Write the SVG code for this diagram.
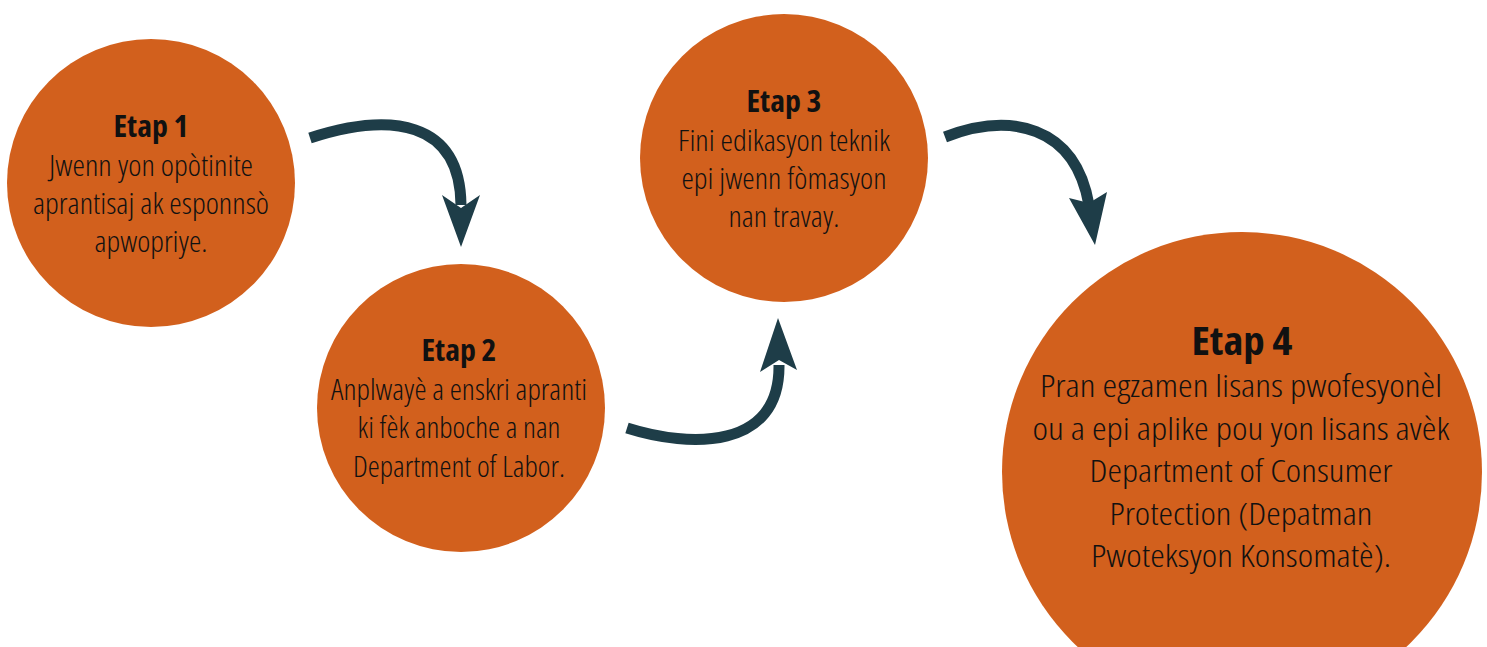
<svg xmlns="http://www.w3.org/2000/svg" width="1487" height="647" viewBox="0 0 1487 647">
<style>
.c{fill:#D2601D}
.t{font-family:"Open Sans","Liberation Sans",sans-serif;font-stretch:condensed;fill:#111;text-anchor:middle}
.h{font-weight:700;font-size:30px}
.b{font-weight:300;font-size:29px}
.h4{font-weight:700;font-size:40px}
.b4{font-weight:300;font-size:32px}
.sh{fill:none;stroke:#1E3D48;stroke-width:11}
.ah{fill:#1E3D48}
</style>
<rect width="1487" height="647" fill="#fff"/>
<g id="connectors">
<path class="sh" d="M310,138 C390,112 460,120 461,205"/>
<polygon class="ah" points="461,247 480,195 461,208 442,195"/>
<path class="sh" d="M627,428 C690,448 780,450 779,365"/>
<polygon class="ah" points="778,318 797,370 779,360 760,372"/>
<path class="sh" d="M945,137 C1010,112 1075,125 1089,205"/>
<polygon class="ah" points="1095,245 1107,192 1089,203 1069,198"/>
</g>
<g id="step1">
<circle class="c" cx="151" cy="183" r="144"/>
<text class="t h" x="151" y="137" textLength="75" lengthAdjust="spacingAndGlyphs">Etap 1</text>
<text class="t b" x="151" y="176" textLength="204" lengthAdjust="spacingAndGlyphs">Jwenn yon opòtinite</text>
<text class="t b" x="151" y="214" textLength="236" lengthAdjust="spacingAndGlyphs">aprantisaj ak esponnsò</text>
<text class="t b" x="151" y="252" textLength="113" lengthAdjust="spacingAndGlyphs">apwopriye.</text>
</g>
<g id="step2">
<circle class="c" cx="461" cy="408" r="144"/>
<text class="t h" x="459" y="361" textLength="75" lengthAdjust="spacingAndGlyphs">Etap 2</text>
<text class="t b" x="459" y="400" textLength="256" lengthAdjust="spacingAndGlyphs">Anplwayè a enskri apranti</text>
<text class="t b" x="459" y="438" textLength="203" lengthAdjust="spacingAndGlyphs">ki fèk anboche a nan</text>
<text class="t b" x="459" y="477" textLength="212" lengthAdjust="spacingAndGlyphs">Department of Labor.</text>
</g>
<g id="step3">
<circle class="c" cx="784" cy="158" r="144"/>
<text class="t h" x="784" y="112" textLength="75" lengthAdjust="spacingAndGlyphs">Etap 3</text>
<text class="t b" x="784" y="151" textLength="212" lengthAdjust="spacingAndGlyphs">Fini edikasyon teknik</text>
<text class="t b" x="784" y="189" textLength="205" lengthAdjust="spacingAndGlyphs">epi jwenn fòmasyon</text>
<text class="t b" x="784" y="227" textLength="111" lengthAdjust="spacingAndGlyphs">nan travay.</text>
</g>
<g id="step4">
<circle class="c" cx="1242" cy="472" r="240"/>
<text class="t h4" x="1242" y="355" textLength="101" lengthAdjust="spacingAndGlyphs">Etap 4</text>
<text class="t b4" x="1241" y="397" textLength="402" lengthAdjust="spacingAndGlyphs">Pran egzamen lisans pwofesyonèl</text>
<text class="t b4" x="1241" y="440" textLength="417" lengthAdjust="spacingAndGlyphs">ou a epi aplike pou yon lisans avèk</text>
<text class="t b4" x="1241" y="482" textLength="303" lengthAdjust="spacingAndGlyphs">Department of Consumer</text>
<text class="t b4" x="1241" y="525" textLength="263" lengthAdjust="spacingAndGlyphs">Protection (Depatman</text>
<text class="t b4" x="1241" y="567" textLength="300" lengthAdjust="spacingAndGlyphs">Pwoteksyon Konsomatè).</text>
</g>
</svg>
